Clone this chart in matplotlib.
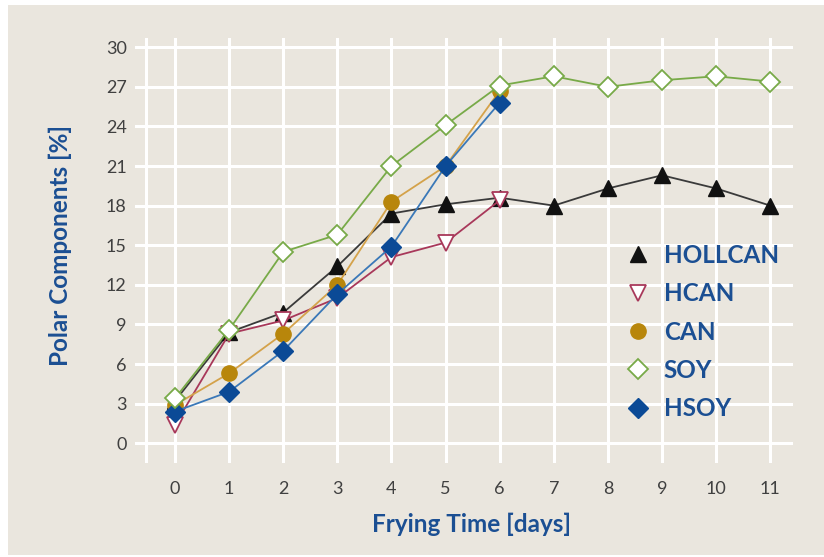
import matplotlib.pyplot as plt
from matplotlib.patches import Rectangle

days = list(range(12))
hollcan = [3.2, 8.4, 9.9, 13.4, 17.4, 18.1, 18.6, 18.0, 19.3, 20.3, 19.3, 18.0]
hcan = [1.4, 8.3, 9.3, 11.0, 14.1, 15.2, 18.4]
can = [2.9, 5.3, 8.3, 12.0, 18.3, 21.0, 26.7]
soy = [3.4, 8.6, 14.5, 15.8, 21.0, 24.1, 27.1, 27.8, 27.0, 27.5, 27.8, 27.4]
hsoy = [2.4, 3.9, 7.0, 11.3, 14.9, 21.0, 25.8]

yticks = list(range(0, 31, 3))

bg = "#EAE6DE"
blue = "#1B4F93"
tick_col = "#404040"

plt.rcParams["font.family"] = ["Lato", "DejaVu Sans"]

fig = plt.figure(figsize=(8.24, 5.57), dpi=100)
fig.patch.set_facecolor("white")
fig.patches.append(Rectangle((8 / 824, 0.003), 1, (557 - 7) / 557,
                             transform=fig.transFigure, facecolor=bg,
                             edgecolor="none", zorder=-5))

ax = fig.add_axes([135 / 824, (557 - 463) / 557, 658 / 824, 425 / 557])
ax.set_facecolor(bg)
ax.set_xlim(-0.74, 11.42)
ax.set_ylim(-1.5, 30.7)
for s in ax.spines.values():
    s.set_visible(False)

# white grid lines, drawn like the original (extend past the data)
for y in yticks:
    ax.axhline(y, color="white", lw=2.2, zorder=1)
for x in [-0.54] + days:
    ax.axvline(x, color="white", lw=2.2, zorder=1)

ax.plot(days, hollcan, color="#3A3A3A", lw=1.3, marker="^", ms=11,
        mfc="#111111", mec="#111111", label="HOLLCAN", zorder=3)
ax.plot(days[:7], hcan, color="#A8385A", lw=1.3, marker="v", ms=11,
        mfc="white", mec="#A8385A", mew=1.3, label="HCAN", zorder=4)
ax.plot(days[:7], can, color="#D4A24A", lw=1.3, marker="o", ms=11,
        mfc="#B8860B", mec="#B8860B", label="CAN", zorder=5)
ax.plot(days, soy, color="#78AA48", lw=1.3, marker="D", ms=10,
        mfc="white", mec="#78AA48", mew=1.3, label="SOY", zorder=7)
ax.plot(days[:7], hsoy, color="#3A78B8", lw=1.3, marker="D", ms=10,
        mfc="#0B4A96", mec="#0B4A96", label="HSOY", zorder=6)

handles, labels = ax.get_legend_handles_labels()
leg_handles = []
for h in handles:
    h2 = plt.Line2D([], [], ls="none", marker=h.get_marker(), ms=h.get_markersize(),
                    mfc=h.get_markerfacecolor(), mec=h.get_markeredgecolor(),
                    mew=h.get_markeredgewidth())
    leg_handles.append(h2)
leg = ax.legend(leg_handles, labels, loc="upper left", bbox_to_anchor=(0.713, 0.567),
                frameon=False, handlelength=1.0, handletextpad=0.55,
                labelspacing=0.63, prop={"weight": "bold", "size": 17.5},
                labelcolor=blue)

ax.set_xticks(days)
ax.set_yticks(yticks)
ax.tick_params(length=0, labelsize=13, labelcolor=tick_col, pad=6)
ax.tick_params(axis="x", pad=13)

fig.text(472 / 824, 1 - 524 / 557, "Frying Time [days]", ha="center", va="center",
         color=blue, fontsize=17.5, fontweight="bold")
fig.text(60 / 824, 1 - 245 / 557, "Polar Components [%]", ha="center", va="center",
         rotation=90, color=blue, fontsize=17.5, fontweight="bold")

fig.savefig("out.png", dpi=100, facecolor=fig.get_facecolor())
